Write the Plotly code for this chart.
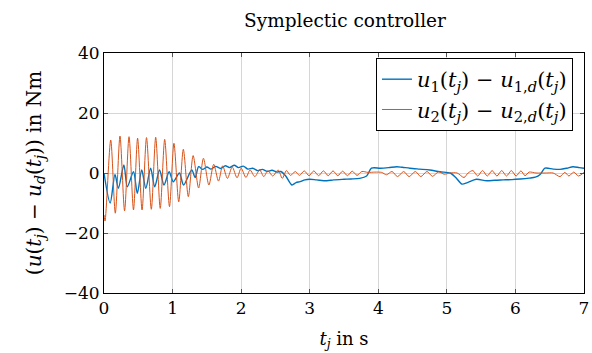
import plotly.graph_objects as go

# ---- data (time in s, value in Nm) ----
t_u1 = [0.00, 0.09, 0.16, 0.21, 0.29, 0.34, 0.43, 0.486, 0.55, 0.61, 0.68, 0.74, 0.81, 0.875,
        0.95, 1.01, 1.10, 1.16, 1.28, 1.33, 1.38, 1.44, 1.50, 1.56, 1.63, 1.70, 1.77, 1.83,
        1.90, 1.96, 2.03, 2.10, 2.17, 2.24, 2.31, 2.38, 2.45, 2.52, 2.58, 2.65, 2.74, 2.80,
        2.86, 2.93, 3.00, 3.10, 3.25, 3.35, 3.50, 3.60, 3.73, 3.83, 3.90, 4.03, 4.15, 4.27,
        4.35, 4.46, 4.60, 4.75, 4.90, 5.05, 5.13, 5.22, 5.30, 5.43, 5.58, 5.70, 5.82, 5.95,
        6.07, 6.20, 6.29, 6.36, 6.43, 6.55, 6.65, 6.75, 6.84, 6.93, 7.00]
u1 = [0.0, -10.0, -0.5, -5.1, 2.7, -4.6, 0.4, -6.8, 1.0, -5.1, 1.6, -4.6, 1.0, -4.0,
      0.4, -2.9, 0.0, -4.0, 1.0, -1.5, 2.1, 1.2, 2.0, 1.3, 2.2, 1.5, 2.4, 1.8,
      2.6, 1.8, 2.3, 1.3, 1.6, 0.8, 1.2, 0.5, 0.9, 0.3, 0.5, -1.0, -4.0, -3.2,
      -2.9, -2.3, -2.1, -2.3, -2.6, -2.3, -2.1, -2.0, -1.8, -1.0, 1.6, 1.6, 1.8, 2.1,
      1.9, 1.6, 1.3, 1.0, 0.4, 0.0, -1.5, -3.7, -3.2, -2.1, -2.6, -2.4, -2.3, -2.2,
      -2.0, -1.7, -1.4, -0.5, 1.6, 1.3, 1.2, 1.6, 2.1, 1.8, 1.6]

t_u2 = [0.00, 0.015, 0.098, 0.165, 0.233, 0.30, 0.365, 0.43, 0.49, 0.555, 0.62, 0.69, 0.754,
        0.82, 0.885, 0.955, 1.02, 1.09, 1.157, 1.23, 1.30, 1.38, 1.45, 1.53, 1.60, 1.67,
        1.73, 1.80, 1.87, 1.94, 2.00, 2.07, 2.13, 2.20, 2.27, 2.33, 2.39, 2.46, 2.54, 2.60,
        2.66, 2.72, 2.79, 2.85, 2.92, 2.99, 3.06, 3.13, 3.20, 3.27, 3.34, 3.41, 3.48, 3.55,
        3.62, 3.69, 3.76, 3.85, 3.95, 4.05, 4.12, 4.20, 4.28, 4.37, 4.45, 4.54, 4.62, 4.71,
        4.79, 4.88, 4.96, 5.05, 5.15, 5.25, 5.31, 5.38, 5.45, 5.52, 5.59, 5.66, 5.73, 5.80,
        5.87, 5.94, 6.01, 6.08, 6.14, 6.20, 6.30, 6.45, 6.55, 6.65, 6.72, 6.78, 6.85, 6.92,
        7.00]
u2 = [-14.0, -16.0, 11.0, -13.4, 12.3, -12.6, 12.1, -12.3, 11.6, -12.3, 11.8, -12.1, 11.9,
      -11.8, 11.2, -11.2, 9.9, -9.6, 7.9, -7.9, 5.8, -5.0, 4.9, -4.0, 2.9, -2.7,
      2.4, -1.8, 2.0, -1.6, 1.6, -1.5, 1.0, -1.2, 1.0, -1.2, 0.8, -1.0, 1.0, -1.8,
      0.8, -0.8, 0.5, -0.8, 0.7, -0.9, 0.7, -0.9, 0.7, -0.9, 0.7, -0.9, 0.6, -0.9,
      0.6, -0.8, 0.5, 0.2, 0.3, 0.2, -0.6, 0.5, -1.2, 0.5, -1.2, 0.5, -1.2, 0.5,
      -1.1, 0.4, -0.4, 0.0, 0.0, -1.5, 0.0, 0.8, -1.0, 0.8, -1.0, 0.8, -1.0, 0.8,
      -1.0, 0.8, -1.0, 0.7, -0.9, 0.3, 0.0, 0.0, 0.0, -1.2, 0.2, -1.0, 0.3, -1.0,
      0.2]

x_ticks = [0, 1, 2, 3, 4, 5, 6, 7]
y_ticks = [-40, -20, 0, 20, 40]

FONT = "DejaVu Serif"
BLUE = "#0072BD"
ORANGE = "#D95319"

fig = go.Figure()
fig.add_trace(go.Scatter(
    x=t_u1, y=u1, mode="lines", line=dict(color=BLUE, width=1.4, shape="spline", smoothing=0.8),
    name="<i>u</i><sub>1</sub>(<i>t<sub>j</sub></i>) − <i>u</i><sub>1,<i>d</i></sub>(<i>t<sub>j</sub></i>)"))
fig.add_trace(go.Scatter(
    x=t_u2, y=u2, mode="lines", line=dict(color=ORANGE, width=1.0, shape="spline", smoothing=0.8),
    name="<i>u</i><sub>2</sub>(<i>t<sub>j</sub></i>) − <i>u</i><sub>2,<i>d</i></sub>(<i>t<sub>j</sub></i>)"))

axis_common = dict(
    showline=True, linecolor="black", linewidth=1, mirror="ticks",
    ticks="inside", ticklen=4, tickcolor="#555555",
    showgrid=True, gridcolor="#d6d6d6", gridwidth=1,
    zeroline=False, tickfont=dict(family=FONT, size=17, color="black"),
)

fig.update_xaxes(range=[0, 7], tickvals=x_ticks, **axis_common,
                 title=dict(text="<i>t<sub>j</sub></i> in s", font=dict(family=FONT, size=18, color="black"),
                            standoff=14))
fig.update_yaxes(range=[-40, 40], tickvals=y_ticks, **axis_common,
                 title=dict(text="(<i>u</i>(<i>t<sub>j</sub></i>) − <i>u<sub>d</sub></i>(<i>t<sub>j</sub></i>)) in Nm",
                            font=dict(family=FONT, size=20, color="black"), standoff=16))

fig.update_layout(
    width=592, height=353,
    margin=dict(l=104, r=8, t=53, b=60, autoexpand=False),
    paper_bgcolor="white", plot_bgcolor="white",
    title=dict(text="Symplectic controller", x=345 / 592, xanchor="center", y=1 - 21 / 353,
               yanchor="middle", font=dict(family=FONT, size=18.5, color="black")),
    legend=dict(x=0.977, y=0.979, xanchor="right", yanchor="top", bgcolor="white",
                bordercolor="black", borderwidth=1, font=dict(family=FONT, size=21, color="black"),
                tracegroupgap=0, itemwidth=30),
    showlegend=True,
)

fig.write_html("out.html")
